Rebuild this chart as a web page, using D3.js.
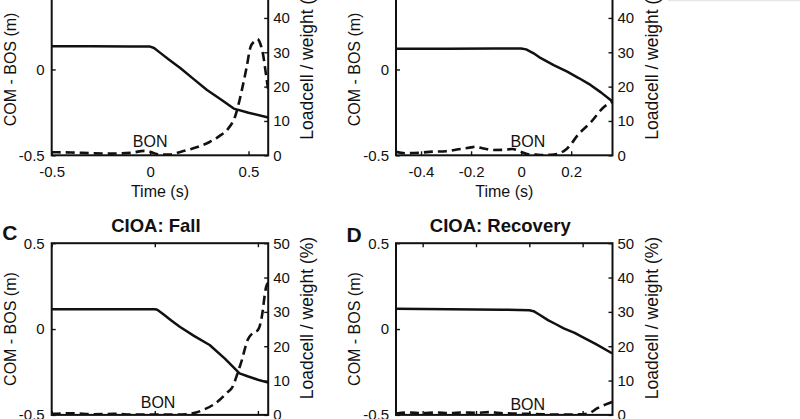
<!DOCTYPE html>
<html lang="en">
<head>
    <meta charset="UTF-8">
    <title>COM - BOS and loadcell, four panels</title>
    <script src="https://d3js.org/d3.v7.min.js"></script>
    <style>
        body {
            margin: 0;
            background-color: white;
        }
        svg {
            display: block;
            font-family: "Liberation Sans", Arial, sans-serif;
        }
        .tick text {
            font-size: 15px;
            fill: #111;
        }
        .tick line {
            stroke: #111;
            stroke-width: 1.4;
        }
        .label {
            font-size: 16px;
            fill: #111;
        }
        .rlabel {
            font-size: 17.5px;
            fill: #111;
        }
        .title {
            font-size: 18.5px;
            font-weight: bold;
            fill: #111;
        }
        .letter {
            font-size: 21px;
            font-weight: bold;
            fill: #111;
        }
    </style>
</head>
<body>
    <script>
        // Panel A (top left)
        const aDomain = [-0.5, 0.6];
        const aTicks = [-0.5, 0, 0.5];
        const aComT = [-0.5, -0.3, -0.1, 0, 0.02, 0.05, 0.1, 0.153, 0.22, 0.289, 0.36, 0.425, 0.5, 0.6];
        const aComV = [0.135, 0.135, 0.134, 0.133, 0.125, 0.098, 0.054, 0.008, -0.055, -0.12, -0.175, -0.228, -0.252, -0.28];
        const aLoadT = [-0.5, -0.4, -0.3, -0.2, -0.1, -0.03, 0, 0.05, 0.1, 0.15, 0.2, 0.25, 0.3, 0.35, 0.4, 0.43, 0.45, 0.47, 0.49, 0.51, 0.53, 0.545, 0.56, 0.575, 0.59, 0.6];
        const aLoadV = [0.9, 0.8, 0.6, 0.5, 0.7, 1.3, 1.0, 0.2, 0.2, 0.9, 1.7, 2.6, 3.8, 5.5, 8.0, 11, 15, 20, 25.5, 31.5, 33.2, 33.8, 32.5, 29, 23, 19];

        // Panel B (top right)
        const bDomain = [-0.5, 0.365];
        const bTicks = [-0.4, -0.2, 0, 0.2];
        const bComT = [-0.5, -0.3, -0.1, 0, 0.02, 0.05, 0.077, 0.13, 0.184, 0.23, 0.277, 0.32, 0.366];
        const bComV = [0.12, 0.121, 0.122, 0.122, 0.117, 0.094, 0.067, 0.025, -0.013, -0.05, -0.09, -0.135, -0.188];
        const bLoadT = [-0.5, -0.463, -0.4, -0.356, -0.3, -0.25, -0.2, -0.183, -0.15, -0.11, -0.07, -0.036, 0, 0.024, 0.06, 0.09, 0.13, 0.16, 0.184, 0.23, 0.277, 0.333, 0.366];
        const bLoadV = [1.0, 0.6, 0.8, 1.06, 1.2, 1.74, 2.3, 2.5, 2.0, 1.54, 1.6, 1.83, 1.0, 0.4, 0.2, 0.1, 0.2, 0.8, 2.0, 6.2, 9.5, 14.2, 15.6];

        // Panel C (bottom left)
        const cDomain = [-0.5, 0.55];
        const cTicks = [-0.5, 0, 0.5];
        const cComT = [-0.5, -0.25, 0, 0.012, 0.04, 0.08, 0.121, 0.19, 0.266, 0.34, 0.411, 0.45, 0.5, 0.55];
        const cComV = [0.115, 0.115, 0.115, 0.112, 0.088, 0.05, 0.013, -0.04, -0.093, -0.172, -0.258, -0.275, -0.295, -0.312];
        const cLoadT = [-0.5, -0.45, -0.4, -0.3, -0.2, -0.1, 0, 0.1, 0.15, 0.2, 0.24, 0.282, 0.315, 0.347, 0.38, 0.395, 0.42, 0.45, 0.476, 0.5, 0.516, 0.524, 0.532, 0.54, 0.55];
        const cLoadV = [0.3, 0.4, 0.5, 0.2, 0.3, 0.1, 0.1, 0.1, 0.2, 0.7, 1.6, 2.9, 4.4, 6.3, 8.5, 11, 15.5, 21.8, 23.9, 24.7, 27.6, 30.5, 34.4, 37.3, 38.5];

        // Panel D (bottom right)
        const dDomain = [-0.5, 0.312];
        const dTicks = [-0.4, -0.2, 0, 0.2];
        const dComT = [-0.5, -0.3, -0.1, 0, 0.016, 0.04, 0.07, 0.1, 0.129, 0.17, 0.198, 0.25, 0.31];
        const dComV = [0.118, 0.116, 0.113, 0.11, 0.104, 0.082, 0.052, 0.028, 0.004, -0.022, -0.045, -0.088, -0.141];
        const dLoadT = [-0.5, -0.45, -0.4, -0.35, -0.3, -0.25, -0.2, -0.15, -0.1, -0.05, 0, 0.05, 0.1, 0.15, 0.2, 0.225, 0.254, 0.285, 0.312];
        const dLoadV = [0.4, 0.7, 0.5, 0.7, 0.5, 0.7, 0.6, 0.8, 0.5, 0.4, 0.3, 0.2, 0.1, 0.1, 0.2, 0.5, 1.9, 3.0, 3.8];

        // "BON" marker text (time, COM - BOS value) per panel
        const bonT = [0, 0.027, 0.016, -0.006];
        const bonV = [-0.45, -0.45, -0.461, -0.471];

        const leftTicks = [-0.5, 0, 0.5];
        const rightTicks = [0, 10, 20, 30, 40, 50];
        const titles = [null, null, "CIOA: Fall", "CIOA: Recovery"];
        const letters = [null, null, "C", "D"];

        // Layout
        const W = 800, H = 419;
        const boxW = 216.5, boxH = 171.7;
        const lefts = [51.7, 396, 51.7, 396];
        const tops = [-16.4, -16.4, 243.2, 243.2];

        const panels = [
            {id: "A", xDomain: aDomain, xTicks: aTicks, comT: aComT, comV: aComV, loadT: aLoadT, loadV: aLoadV},
            {id: "B", xDomain: bDomain, xTicks: bTicks, comT: bComT, comV: bComV, loadT: bLoadT, loadV: bLoadV},
            {id: "C", xDomain: cDomain, xTicks: cTicks, comT: cComT, comV: cComV, loadT: cLoadT, loadV: cLoadV},
            {id: "D", xDomain: dDomain, xTicks: dTicks, comT: dComT, comV: dComV, loadT: dLoadT, loadV: dLoadV}
        ];

        const svg = d3.select("body").append("svg")
            .attr("width", W)
            .attr("height", H);

        // faint border left over at the top right of the scan
        svg.append("line")
            .attr("x1", 668).attr("x2", W)
            .attr("y1", 0.5).attr("y2", 0.5)
            .attr("stroke", "#e6e6e6")
            .attr("stroke-width", 1.5);

        const fmt = d => String(d);

        panels.forEach((p, i) => {
            const left = lefts[i], top = tops[i];
            const x = d3.scaleLinear().domain(p.xDomain).range([left, left + boxW]);
            const yL = d3.scaleLinear().domain([-0.5, 0.5]).range([top + boxH, top]);
            const yR = d3.scaleLinear().domain([0, 50]).range([top + boxH, top]);
            const g = svg.append("g");

            const clipId = "clip" + p.id;
            svg.append("clipPath").attr("id", clipId)
                .append("rect")
                .attr("x", left).attr("y", top)
                .attr("width", boxW).attr("height", boxH);

            // COM - BOS (solid) and loadcell (dashed)
            const comLine = d3.line()
                .x(d => x(d[0]))
                .y(d => yL(d[1]));
            const loadLine = d3.line()
                .x(d => x(d[0]))
                .y(d => yR(d[1]))
                .curve(d3.curveMonotoneX);

            g.append("path")
                .datum(d3.zip(p.loadT, p.loadV))
                .attr("clip-path", `url(#${clipId})`)
                .attr("d", loadLine)
                .attr("fill", "none")
                .attr("stroke", "#111")
                .attr("stroke-width", 2.6)
                .attr("stroke-dasharray", "9,5");

            g.append("path")
                .datum(d3.zip(p.comT, p.comV))
                .attr("clip-path", `url(#${clipId})`)
                .attr("d", comLine)
                .attr("fill", "none")
                .attr("stroke", "#111")
                .attr("stroke-width", 2.5)
                .attr("stroke-linejoin", "round");

            // axes, ticks pointing inwards
            g.append("g")
                .attr("transform", `translate(0,${top + boxH})`)
                .call(d3.axisBottom(x).tickValues(p.xTicks).tickSize(-4).tickPadding(11).tickFormat(fmt))
                .call(a => a.select(".domain").remove());
            g.append("g")
                .attr("transform", `translate(0,${top})`)
                .call(d3.axisTop(x).tickValues(p.xTicks).tickSize(-4).tickFormat(""))
                .call(a => a.select(".domain").remove());
            g.append("g")
                .attr("transform", `translate(${left},0)`)
                .call(d3.axisLeft(yL).tickValues(leftTicks).tickSize(-4).tickPadding(7).tickFormat(fmt))
                .call(a => a.select(".domain").remove());
            g.append("g")
                .attr("transform", `translate(${left + boxW},0)`)
                .call(d3.axisRight(yR).tickValues(rightTicks).tickSize(-4).tickPadding(5).tickFormat(fmt))
                .call(a => a.select(".domain").remove());

            g.selectAll(".tick text").attr("font-family", null).attr("font-size", null);

            g.append("rect")
                .attr("x", left).attr("y", top)
                .attr("width", boxW).attr("height", boxH)
                .attr("fill", "none")
                .attr("stroke", "#111")
                .attr("stroke-width", 2);

            // labels
            g.append("text")
                .attr("class", "label")
                .attr("x", x(bonT[i]))
                .attr("y", yL(bonV[i]))
                .attr("text-anchor", "middle")
                .text("BON");

            g.append("text")
                .attr("class", "label")
                .attr("x", left + boxW / 2)
                .attr("y", top + boxH + 42)
                .attr("text-anchor", "middle")
                .text("Time (s)");

            g.append("text")
                .attr("class", "label")
                .attr("transform", `translate(${left - 36},${top + boxH / 2}) rotate(-90)`)
                .attr("text-anchor", "middle")
                .text("COM - BOS (m)");

            g.append("text")
                .attr("class", "rlabel")
                .attr("transform", `translate(${left + boxW + 45},${top + boxH / 2 - 11}) rotate(-90)`)
                .attr("text-anchor", "middle")
                .text("Loadcell / weight (%)");

            if (titles[i]) {
                g.append("text")
                    .attr("class", "title")
                    .attr("x", left + boxW / 2 - 4)
                    .attr("y", top - 11.5)
                    .attr("text-anchor", "middle")
                    .text(titles[i]);
            }
            if (letters[i]) {
                g.append("text")
                    .attr("class", "letter")
                    .attr("x", left - 49.5)
                    .attr("y", top - 3 + (i === 3 ? 1.5 : 0))
                    .text(letters[i]);
            }
        });
    </script>
</body>
</html>
